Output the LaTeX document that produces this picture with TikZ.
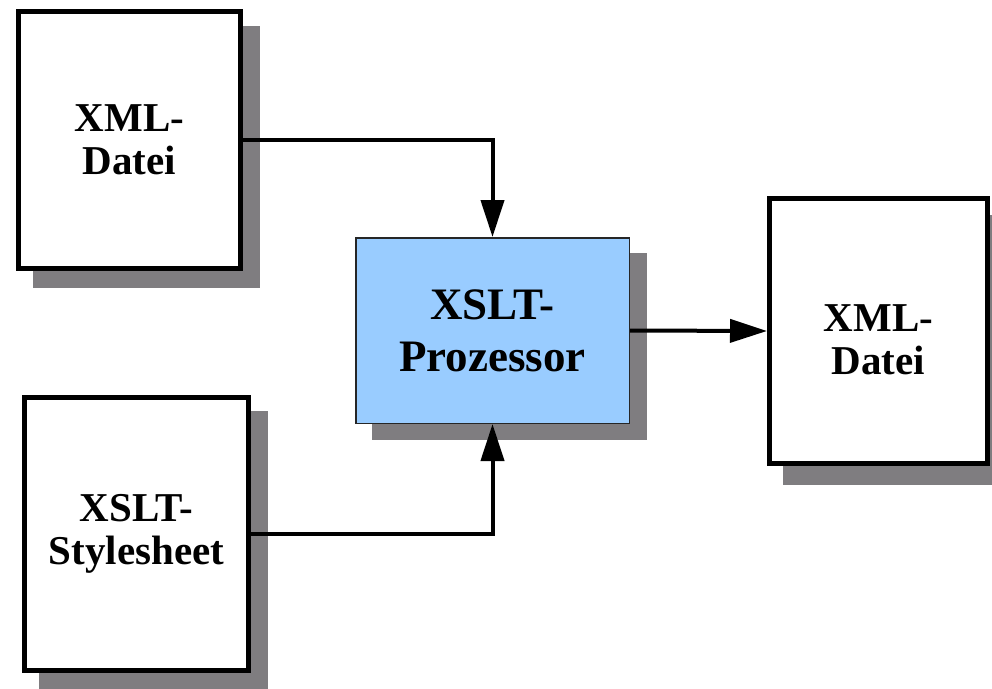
\documentclass[tikz,border=0pt]{standalone}
\usepackage{fontspec}
\setmainfont{Liberation Serif}
\usetikzlibrary{arrows.meta,backgrounds}
\definecolor{shadowgray}{HTML}{7F7D80}
\definecolor{procblue}{HTML}{99CCFF}
\tikzset{
  filebox/.style={draw=black, line width=5pt, fill=white, inner sep=0pt, align=center,
    font=\fontsize{41}{43}\selectfont\bfseries},
  procbox/.style={draw=black!85, line width=1.5pt, fill=procblue, inner sep=0pt, align=center,
    font=\fontsize{45}{52}\selectfont\bfseries},
  boxshadow/.style={fill=shadowgray},
  flow/.style={line width=4pt, -{Triangle[length=37pt,width=23pt]}},
  lbl/.style={align=center, font=\fontsize{41}{43}\selectfont\bfseries}
}
\begin{document}
\begin{tikzpicture}[x=1pt,y=-1pt]
\useasboundingbox (0,0) rectangle (992,688);
\clip (0,0) rectangle (992,688);
% nodes
\node[filebox, minimum width=222pt, minimum height=257pt] (b1) at (129.5,140) {XML-\\Datei};
\node[filebox, minimum width=224pt, minimum height=273pt] (b2) at (136.5,534) {XSLT-\\Stylesheet};
\node[procbox, minimum width=273.5pt, minimum height=185.5pt] (p) at (492.5,330.5) {XSLT-\\Prozessor};
\node[filebox, minimum width=218pt, minimum height=265pt] (b3) at (878.5,331) {};
\node[lbl] (t3) at (878.5,340) {XML-\\Datei};
% shadows
\begin{scope}[on background layer]
\fill[white] (0,0) rectangle (992,688);
\fill[boxshadow] ([shift={(17,17)}]b1.north west) rectangle ([shift={(17,17)}]b1.south east);
\fill[boxshadow] ([shift={(17,16)}]b2.north west) rectangle ([shift={(17,16)}]b2.south east);
\fill[boxshadow] ([shift={(17,16)}]p.north west) rectangle ([shift={(17,16)}]p.south east);
\fill[boxshadow] ([shift={(16,19)}]b3.north west) rectangle ([shift={(16,19)}]b3.south east);
\end{scope}
% connectors
\draw[flow] (b1.east) -| (p.north);
\draw[flow] (b2.east) -| (p.south);
\draw[flow] (p.east) -- (b3.west);
\end{tikzpicture}
\end{document}
